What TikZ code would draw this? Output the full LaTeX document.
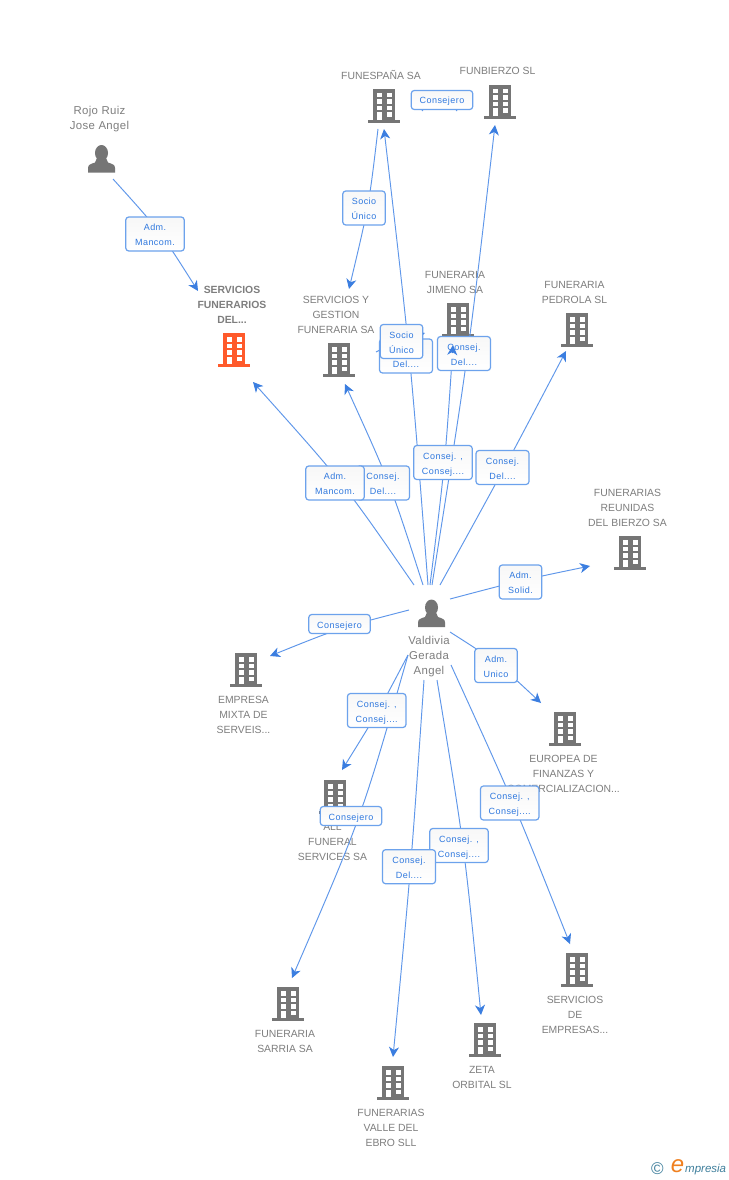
\documentclass[tikz,border=0pt]{standalone}
\usepackage{fontspec}
\setmainfont{Liberation Sans}
\usetikzlibrary{arrows.meta}
\definecolor{linkc}{HTML}{5F97EA}
\definecolor{tipc}{HTML}{3B7EE0}
\definecolor{labc}{HTML}{2F78DE}
\definecolor{boxc}{HTML}{6CA2EC}
\definecolor{txtc}{HTML}{7E7E7E}
\definecolor{iconc}{HTML}{757575}
\definecolor{hotc}{HTML}{FF5A2B}
\definecolor{logoc}{HTML}{3F7F9C}
\definecolor{logoo}{HTML}{F08020}
\newcommand{\bldgart}[2]{%
  \begin{scope}[shift={(#1.north west)}]
    \fill[#2] (0,31) rectangle (32,34);
    \fill[#2] (5,0) rectangle (27,31);
    \foreach \yy in {4,10.5,17}{
      \fill[white] (9,\yy) rectangle (14,\yy+4.5);
      \fill[white] (18.5,\yy) rectangle (23.5,\yy+4.5);
    }
    \fill[white] (9,23.5) rectangle (14,31);
    \fill[white] (18.5,23.5) rectangle (23.5,28);
  \end{scope}}
\newcommand{\personart}[1]{%
  \begin{scope}[shift={(#1.north west)}]
    \fill[iconc] (13.5,8) ellipse (6.5 and 8);
    \fill[iconc] (0,27.5) -- (0,23) .. controls (0,19.5) and (3,19) .. (7,17.5)
      -- (9,13) -- (18,13) -- (20,17.5) .. controls (24,19) and (27,19.5) .. (27,23) -- (27,27.5) -- cycle;
  \end{scope}}
\newcommand{\bldgnode}[3][iconc]{\node[bldg] (#2) at (#3) {};\bldgart{#2}{#1}}
\newcommand{\personnode}[2]{\node[personicon] (#1) at (#2) {};\personart{#1}}
\tikzset{
  bldg/.style={inner sep=0pt,outer sep=0pt,minimum width=32pt,minimum height=34pt,anchor=north},
  personicon/.style={inner sep=0pt,outer sep=0pt,minimum width=27pt,minimum height=28pt,anchor=north},
  entname/.style={inner sep=0pt,align=center,text=txtc,yshift=-.8pt,font=\fontsize{10.4}{15}\selectfont},
  mixedname/.style={entname,font=\fontsize{11.4}{15}\selectfont\addfontfeature{LetterSpace=3}},
  boldname/.style={entname,font=\fontsize{10.4}{15}\selectfont\bfseries},
  link/.style={draw=linkc,line width=.95pt,-{Stealth[length=10pt,width=10pt,inset=3pt,color=tipc]}},
  plainlink/.style={draw=linkc,line width=.95pt},
  onlytip/.style={draw=tipc,line width=.95pt,-{Stealth[length=10pt,width=10pt,inset=3pt,color=tipc]}},
  lab/.style={draw=boxc,line width=1.2pt,rounded corners=3pt,top color=white!97!black,bottom color=white,
    text=labc,align=center,inner sep=0pt,minimum height=34pt,text height=23.4pt,text depth=0pt,
    font=\fontsize{9}{15}\selectfont\addfontfeature{LetterSpace=5}},
  labw/.style={lab,minimum width=58.5pt},
  labn/.style={lab,minimum width=53pt},
  labs/.style={lab,minimum width=42.5pt},
  labl/.style={lab,minimum width=61.5pt,minimum height=19pt,text height=8pt},
}
\begin{document}
\begin{tikzpicture}[x=1pt,y=-1pt]
\useasboundingbox (0,0) rectangle (728,1180);
\fill[white] (0,0) rectangle (728,1180);

% entity icons
\personnode{rojo}{101.5,145}
\personnode{val}{431.5,599.5}
\bldgnode{funes}{384,89}
\bldgnode{funb}{500,85}
\bldgnode[hotc]{sfd}{234,333}
\bldgnode{sgf}{339,343}
\bldgnode{jim}{458,303}
\bldgnode{ped}{577,313}
\bldgnode{reu}{630,536}
\bldgnode{emx}{246,653}
\bldgnode{eur}{565,712}
\bldgnode{allf}{335,780}
\bldgnode{sar}{288,987}
\bldgnode{vall}{393,1066}
\bldgnode{zeta}{485,1023}
\bldgnode{semp}{577,953}

% entity names
\node[mixedname] (trojo) at (99.5,118.5) {Rojo Ruiz\\Jose Angel};
\node[mixedname] (tval) at (429,656) {Valdivia\\Gerada\\Angel};
\node[entname] (tfunes) at (381,74.2) {FUNESPAÑA SA};
\node[entname] (tfunb) at (497.5,70.2) {FUNBIERZO SL};
\node[boldname] (tsfd) at (232,304) {SERVICIOS\\FUNERARIOS\\DEL...};
\node[entname] (tsgf) at (336,314) {SERVICIOS Y\\GESTION\\FUNERARIA SA};
\node[entname] (tjim) at (455,281.5) {FUNERARIA\\JIMENO SA};
\node[entname] (tped) at (574.5,291.5) {FUNERARIA\\PEDROLA SL};
\node[entname] (treu) at (627.5,507) {FUNERARIAS\\REUNIDAS\\DEL BIERZO SA};
\node[entname] (temx) at (243.5,714) {EMPRESA\\MIXTA DE\\SERVEIS...};
\node[entname] (teur) at (563.5,773) {EUROPEA DE\\FINANZAS Y\\COMERCIALIZACION...};
\node[entname] (tall) at (332.5,841) {ALL\\FUNERAL\\SERVICES SA};
\node[entname] (tsar) at (285,1040.5) {FUNERARIA\\SARRIA SA};
\node[entname] (tvall) at (391,1127) {FUNERARIAS\\VALLE DEL\\EBRO SLL};
\node[entname] (tzeta) at (482,1076.5) {ZETA\\ORBITAL SL};
\node[entname] (tsemp) at (575,1014) {SERVICIOS\\DE\\EMPRESAS...};

% connector free ends
\coordinate (rojoOut) at (113,179);
\coordinate (sfdIn1) at (198,291);
\coordinate (funesOut) at (378,129);
\coordinate (sgfIn1) at (349,289);
\coordinate (funesIn) at (384,129);
\coordinate (funbIn) at (495,125);
\coordinate (jimIn) at (453,345);
\coordinate (pedIn) at (566,351);
\coordinate (sgfIn2) at (345,384);
\coordinate (sfdIn2) at (253,382);
\coordinate (reuIn) at (590,566);
\coordinate (emxIn) at (270,656);
\coordinate (eurIn) at (541,703);
\coordinate (sempIn) at (570,944);
\coordinate (zetaIn) at (481,1015);
\coordinate (vallIn) at (393,1057);
\coordinate (sarIn) at (292,978);
\coordinate (allIn) at (342,770);
\coordinate (v1) at (428,585);
\coordinate (v2) at (430,585);
\coordinate (v3) at (432,585);
\coordinate (v4) at (440,585);
\coordinate (v5) at (423,585);
\coordinate (v6) at (414,585);
\coordinate (v7) at (450,599);
\coordinate (v8) at (409,610);
\coordinate (v9) at (450,632);
\coordinate (v10) at (451,665);
\coordinate (v11) at (437,680);
\coordinate (v12) at (424,680);
\coordinate (v13) at (408,655);
\coordinate (v14) at (408,655);
\coordinate (sgfOut) at (376,352);
\coordinate (jimIn2) at (425,333);
\coordinate (funesR) at (422,111);
\coordinate (funbL) at (457,111);
\coordinate (jimTail) at (452.4,353);

% connectors
\draw[link] (rojoOut) .. controls (160,231) .. (sfdIn1);
\draw[link] (funesOut) .. controls (369,205) .. (sgfIn1);
\draw[link] (v1) .. controls (410.5,357) .. (funesIn);
\draw[plainlink] (v2) .. controls (445,465) .. (jimIn);
\draw[link] (v3) .. controls (468.5,355) .. (funbIn);
\draw[link] (v4) .. controls (504.5,468) .. (pedIn);
\draw[link] (v5) .. controls (390.5,484) .. (sgfIn2);
\draw[link] (v6) .. controls (343.5,483) .. (sfdIn2);
\draw[link] (v7) .. controls (520,580.5) .. (reuIn);
\draw[link] (v8) .. controls (339.5,628) .. (emxIn);
\draw[link] (v9) .. controls (497,662) .. (eurIn);
\draw[link] (v10) .. controls (514,803) .. (sempIn);
\draw[link] (v11) .. controls (464.5,847) .. (zetaIn);
\draw[link] (v12) .. controls (411,868) .. (vallIn);
\draw[link] (v13) .. controls (362,816) .. (sarIn);
\draw[link] (v14) .. controls (378,712) .. (allIn);
\draw[plainlink] (funesR) .. controls (440,88) .. (funbL);

% connector labels
\node[labl] (l1) at (442,100) {Consejero};
\node[labw] (l2) at (155,234) {Adm.\\Mancom.};
\node[labs] (l3) at (364,208) {Socio\\Único};
\node[labn] (l4) at (406,356) {Consej.\\Del....};
\node[labn] (l5) at (464,353.5) {Consej.\\Del....};
\node[labn] (l6) at (383,483) {Consej.\\Del....};
\node[labw] (l7) at (335,483) {Adm.\\Mancom.};
\node[labw] (l8) at (443,462.5) {Consej. ,\\Consej....};
\node[labn] (l9) at (502.5,467.5) {Consej.\\Del....};
\node[labs] (l10) at (520.5,582) {Adm.\\Solid.};
\node[labl] (l11) at (339.5,624) {Consejero};
\node[labs] (l12) at (496,665.5) {Adm.\\Unico};
\node[labw] (l13) at (376.7,710.5) {Consej. ,\\Consej....};
\node[labl] (l14) at (351,816) {Consejero};
\node[labw] (l15) at (509.7,803) {Consej. ,\\Consej....};
\node[labw] (l16) at (459,845.5) {Consej. ,\\Consej....};
\node[labn] (l17) at (409,866.7) {Consej.\\Del....};

\draw[link] (sgfOut) .. controls (400,340) .. (jimIn2);
\node[labs] (l18) at (401.5,341.5) {Socio\\Único};
\draw[onlytip] (jimTail) -- (jimIn);

% logo
\node[inner sep=0pt,text=logoc,font=\fontsize{17}{17}\selectfont] (logoC) at (657.5,1169) {©};
\node[inner sep=0pt,text=logoo,font=\fontsize{24}{24}\selectfont\itshape] (logoE) at (677.5,1166) {e};
\node[inner sep=0pt,anchor=west,text=logoc,font=\fontsize{11.5}{12}\selectfont\itshape] (logoT) at (685,1170) {mpresia};
\end{tikzpicture}
\end{document}
